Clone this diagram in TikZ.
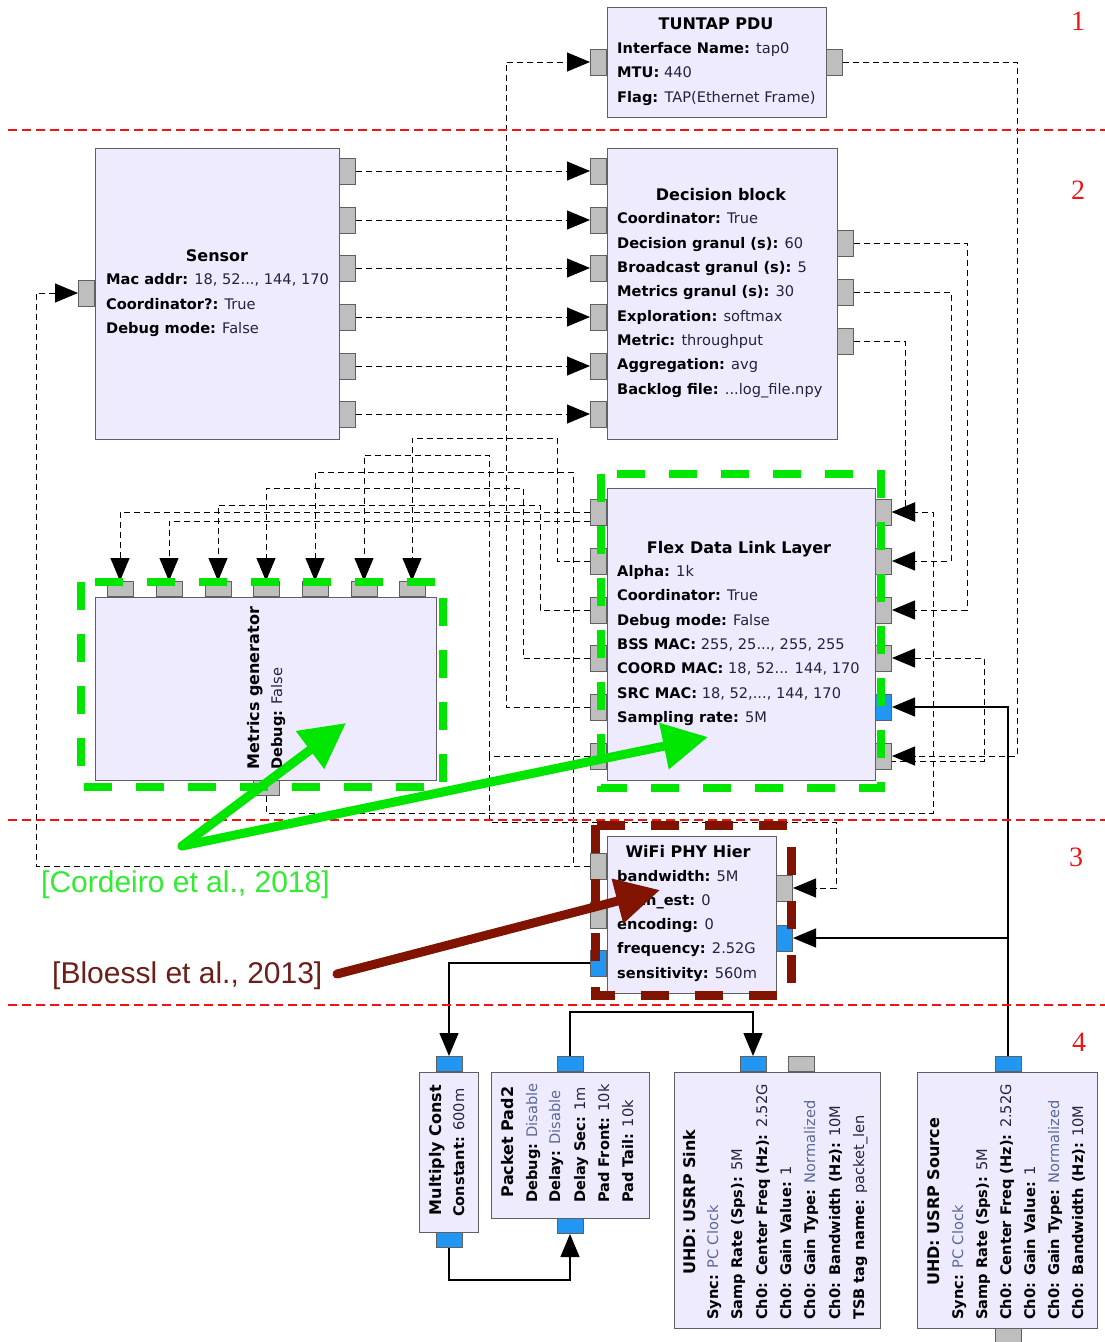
\documentclass[tikz,border=0pt]{standalone}
\usepackage{fontspec}
\setmainfont{DejaVu Sans}
\newfontfamily\citefont{Liberation Sans}
\newfontfamily\numfont{Liberation Serif}
\usetikzlibrary{arrows.meta,calc}
\pgfdeclarelayer{background}
\pgfsetlayers{background,main}
\definecolor{blkfill}{RGB}{238,235,255}
\definecolor{blkdraw}{RGB}{96,96,96}
\definecolor{portgray}{RGB}{190,190,190}
\definecolor{portblue}{RGB}{33,150,243}
\definecolor{annogreen}{RGB}{0,230,0}
\definecolor{citegreen}{RGB}{50,235,50}
\definecolor{annobrown}{RGB}{128,20,0}
\definecolor{citebrown}{RGB}{110,30,25}
\definecolor{valcol}{RGB}{35,35,60}
\definecolor{enumcol}{RGB}{90,105,150}
\definecolor{sepred}{RGB}{240,20,20}
\newcommand\kv[2]{\textbf{#1:} {\color{valcol}#2}}
\newcommand\ke[2]{\textbf{#1:} {\color{enumcol}#2}}
\tikzset{
  block/.style={draw=blkdraw, fill=blkfill, line width=1.3pt, inner sep=0pt, anchor=north west},
  lport/.style={draw=blkdraw, fill=portgray, line width=1pt, minimum width=16pt, minimum height=26pt, inner sep=0pt},
  tport/.style={draw=blkdraw, fill=portgray, line width=1pt, minimum width=26pt, minimum height=15pt, inner sep=0pt},
  bport/.style={fill=portblue},
  ttl/.style={font=\fontsize{16}{19}\selectfont\bfseries, inner sep=0pt, anchor=base},
  prm/.style={font=\fontsize{14.6}{17}\selectfont, inner sep=0pt, anchor=base west},
  rttl/.style={ttl, rotate=90},
  rprm/.style={prm, rotate=90},
  dcon/.style={draw=black, line width=1pt, dash pattern=on 6pt off 4pt},
  scon/.style={draw=black, line width=1.3pt},
  arr/.style={-{Triangle[length=23pt,width=19pt]}},
  gbox/.style={draw=annogreen, line width=7.5pt, dash pattern=on 28pt off 24pt},
  bbox/.style={draw=annobrown, line width=9pt, dash pattern=on 28pt off 26pt},
  garrow/.style={draw=annogreen, line width=9pt, line cap=round, -{Triangle[length=45pt,width=45pt]}},
  barrow/.style={draw=annobrown, line width=9pt, line cap=round, -{Triangle[length=44pt,width=44pt]}},
  sep/.style={draw=sepred, line width=2.5pt, dash pattern=on 9pt off 5pt},
  num/.style={font=\numfont\fontsize{28}{30}\selectfont, text=sepred, inner sep=0pt, anchor=base},
  cite/.style={font=\citefont\fontsize{30}{34}\selectfont, inner sep=0pt, anchor=base west}
}
\newcommand\pline[4]{\node[prm] (#1) at (#2,#3) {#4};}
\begin{document}
\begin{tikzpicture}[x=1pt,y=-1pt]
\useasboundingbox (0,0) rectangle (1105,1342);
\begin{pgfonlayer}{background}
\fill[white] (0,0) rectangle (1105,1342);
\end{pgfonlayer}

% ---------------- blocks ----------------
\node[block, minimum width=219pt, minimum height=110pt] (tun) at (607,7) {};
\node[block, minimum width=244pt, minimum height=291pt] (sen) at (95,148) {};
\node[block, minimum width=230pt, minimum height=291pt] (dec) at (607,148) {};
\node[block, minimum width=341pt, minimum height=183pt] (mg) at (95,597) {};
\node[block, minimum width=268pt, minimum height=292pt] (fl) at (607,488) {};
\node[block, minimum width=169pt, minimum height=157pt] (wf) at (607,836) {};
\node[block, minimum width=59pt, minimum height=160pt] (mc) at (419,1072) {};
\node[block, minimum width=158pt, minimum height=146pt] (pp) at (491,1072) {};
\node[block, minimum width=206pt, minimum height=256pt] (sk) at (674,1072) {};
\node[block, minimum width=180pt, minimum height=256pt] (sr) at (917,1072) {};

% ---------------- ports ----------------
\node[lport, anchor=east] (tun-i) at (607,62) {};
\node[lport, anchor=west] (tun-o) at (826,62) {};
\node[lport, anchor=east] (sen-i) at (95,293) {};
\foreach \y [count=\i] in {171,220,268,317,366,414} {
  \node[lport, anchor=west] (sen-o\i) at (339,\y) {};
  \node[lport, anchor=east] (dec-i\i) at (607,\y) {};
}
\foreach \y [count=\i] in {243,292,341} {
  \node[lport, anchor=west] (dec-o\i) at (837,\y) {};
}
\foreach \y [count=\i] in {512,561,610,658,707,756} {
  \node[lport, anchor=east] (fl-l\i) at (607,\y) {};
}
\foreach \y [count=\i] in {512,561,610,658} {
  \node[lport, anchor=west] (fl-r\i) at (875,\y) {};
}
\node[lport, bport, anchor=west] (fl-r5) at (875,707) {};
\node[lport, anchor=west] (fl-r6) at (875,756) {};
\foreach \x [count=\i] in {120,169,218,266,315,364,412} {
  \node[tport, anchor=south] (mg-i\i) at (\x,597) {};
}
\node[tport, anchor=north] (mg-o) at (266,780) {};
\node[lport, anchor=east] (wf-l1) at (607,866) {};
\node[lport, anchor=east] (wf-l2) at (607,915) {};
\node[lport, bport, anchor=east] (wf-l3) at (607,963) {};
\node[lport, anchor=west] (wf-r1) at (776,888) {};
\node[lport, bport, anchor=west] (wf-r2) at (776,938) {};
\node[tport, bport, anchor=south] (mc-i) at (449,1072) {};
\node[tport, bport, anchor=north] (mc-o) at (449,1232) {};
\node[tport, bport, anchor=south] (pp-o) at (570,1072) {};
\node[tport, bport, anchor=north] (pp-i) at (570,1218) {};
\node[tport, bport, anchor=south] (sk-i) at (753,1072) {};
\node[tport, anchor=south] (sk-c) at (801,1072) {};
\node[tport, bport, anchor=south] (sr-o) at (1008,1072) {};
\node[tport, anchor=north] (sr-c) at (1008,1328) {};

% ---------------- connectors ----------------
\begin{pgfonlayer}{background}
\foreach \i in {1,...,6} { \draw[dcon,arr] (sen-o\i.east) -- (dec-i\i.west); }
\draw[dcon,arr] (dec-o1.east) -| (967,610) -- (fl-r3.east);
\draw[dcon,arr] (dec-o2.east) -| (951,561) -- (fl-r2.east);
\draw[dcon,arr] (dec-o3.east) -| (905,512) -- (fl-r1.east);
\draw[dcon,arr] (tun-o.east) -| (1017,756) -- (fl-r6.east);
\draw[dcon,arr] (fl-l5.west) -| (506,62) -- (tun-i.west);
\draw[dcon,arr] (fl-l1.west) -| (mg-i1.north);
\draw[dcon,arr] ([yshift=-9pt]fl-l1.west) -| (mg-i2.north);
\draw[dcon,arr] (fl-l3.west) -| (540,505) -| (mg-i3.north);
\draw[dcon,arr] (fl-l4.west) -| (523,488) -| (mg-i4.north);
\draw[dcon,arr] (wf-l1.west) -| (573,472) -| (mg-i5.north);
\draw[dcon,arr] (fl-l6.west) -| (489,455) -| (mg-i6.north);
\draw[dcon,arr] (fl-l2.west) -| (557,438) -| (mg-i7.north);
\draw[dcon,arr] (wf-l1.west) -| (36,293) -- (sen-i.west);
\draw[dcon,arr] (fl-l6.west) -| (489,822) -| (836,888) -- (wf-r1.east);
\draw[dcon,arr] (mg-o.south) |- (933,813) |- (fl-r1.east);
\draw[dcon,arr] ([yshift=-5pt]fl-l6.west) -| (984,658) -- (fl-r4.east);
\draw[scon,arr] (sr-o.north) |- (fl-r5.east);
\draw[scon,arr] (sr-o.north) |- (wf-r2.east);
\draw[scon,arr] (wf-l3.west) -| (mc-i.north);
\draw[scon,arr] (mc-o.south) -- ++(0,32) -| (pp-i.south);
\draw[scon,arr] (pp-o.north) -- ++(0,-44) -| (sk-i.north);
\end{pgfonlayer}

% ---------------- texts ----------------
\node[ttl] (tun-t) at (716,29) {TUNTAP PDU};
\pline{tun-p1}{617}{53}{\kv{Interface Name}{tap0}}
\pline{tun-p2}{617}{77}{\kv{MTU}{440}}
\pline{tun-p3}{617}{102}{\kv{Flag}{TAP(Ethernet Frame)}}

\node[ttl] (sen-t) at (217,261) {Sensor};
\pline{sen-p1}{106}{284}{\kv{Mac addr}{18, 52..., 144, 170}}
\pline{sen-p2}{106}{309}{\kv{Coordinator?}{True}}
\pline{sen-p3}{106}{333}{\kv{Debug mode}{False}}

\node[ttl] (dec-t) at (721,200) {Decision block};
\pline{dec-p1}{617}{223}{\kv{Coordinator}{True}}
\pline{dec-p2}{617}{248}{\kv{Decision granul (s)}{60}}
\pline{dec-p3}{617}{272}{\kv{Broadcast granul (s)}{5}}
\pline{dec-p4}{617}{296}{\kv{Metrics granul (s)}{30}}
\pline{dec-p5}{617}{321}{\kv{Exploration}{softmax}}
\pline{dec-p6}{617}{345}{\kv{Metric}{throughput}}
\pline{dec-p7}{617}{369}{\kv{Aggregation}{avg}}
\pline{dec-p8}{617}{394}{\kv{Backlog file}{...log\_file.npy}}

\node[ttl] (fl-t) at (739,553) {Flex Data Link Layer};
\pline{fl-p1}{617}{576}{\kv{Alpha}{1k}}
\pline{fl-p2}{617}{600}{\kv{Coordinator}{True}}
\pline{fl-p3}{617}{625}{\kv{Debug mode}{False}}
\pline{fl-p4}{617}{649}{\kv{BSS MAC}{255, 25..., 255, 255}}
\pline{fl-p5}{617}{673}{\kv{COORD MAC}{18, 52... 144, 170}}
\pline{fl-p6}{617}{698}{\kv{SRC MAC}{18, 52,..., 144, 170}}
\pline{fl-p7}{617}{722}{\kv{Sampling rate}{5M}}

\node[ttl] (wf-t) at (688,857) {WiFi PHY Hier};
\pline{wf-p1}{617}{881}{\kv{bandwidth}{5M}}
\pline{wf-p2}{617}{905}{\kv{chan\_est}{0}}
\pline{wf-p3}{617}{929}{\kv{encoding}{0}}
\pline{wf-p4}{617}{953}{\kv{frequency}{2.52G}}
\pline{wf-p5}{617}{978}{\kv{sensitivity}{560m}}

\node[rttl] (mg-t) at (259,688) {Metrics generator};
\node[rprm] (mg-p1) at (282,770) {\kv{Debug}{False}};

\node[rttl] (mc-t) at (441,1150) {Multiply Const};
\node[rprm] (mc-p1) at (464,1217) {\kv{Constant}{600m}};

\node[rttl] (pp-t) at (513,1142) {Packet Pad2};
\node[rprm] (pp-p1) at (537,1203) {\ke{Debug}{Disable}};
\node[rprm] (pp-p2) at (560,1203) {\ke{Delay}{Disable}};
\node[rprm] (pp-p3) at (585,1203) {\kv{Delay Sec}{1m}};
\node[rprm] (pp-p4) at (609,1203) {\kv{Pad Front}{10k}};
\node[rprm] (pp-p5) at (633,1203) {\kv{Pad Tail}{10k}};

\node[rttl] (sk-t) at (695,1202) {UHD: USRP Sink};
\node[rprm] (sk-p1) at (718,1320) {\ke{Sync}{PC Clock}};
\node[rprm] (sk-p2) at (742,1320) {\kv{Samp Rate (Sps)}{5M}};
\node[rprm] (sk-p3) at (767,1320) {\kv{Ch0: Center Freq (Hz)}{2.52G}};
\node[rprm] (sk-p4) at (791,1320) {\kv{Ch0: Gain Value}{1}};
\node[rprm] (sk-p5) at (815,1320) {\ke{Ch0: Gain Type}{Normalized}};
\node[rprm] (sk-p6) at (840,1320) {\kv{Ch0: Bandwidth (Hz)}{10M}};
\node[rprm] (sk-p7) at (864,1320) {\kv{TSB tag name}{packet\_len}};

\node[rttl] (sr-t) at (939,1202) {UHD: USRP Source};
\node[rprm] (sr-p1) at (963,1320) {\ke{Sync}{PC Clock}};
\node[rprm] (sr-p2) at (987,1320) {\kv{Samp Rate (Sps)}{5M}};
\node[rprm] (sr-p3) at (1011,1320) {\kv{Ch0: Center Freq (Hz)}{2.52G}};
\node[rprm] (sr-p4) at (1035,1320) {\kv{Ch0: Gain Value}{1}};
\node[rprm] (sr-p5) at (1059,1320) {\ke{Ch0: Gain Type}{Normalized}};
\node[rprm] (sr-p6) at (1083,1320) {\kv{Ch0: Bandwidth (Hz)}{10M}};

% ---------------- separators and numbers ----------------
\draw[sep] (8,130) -- (1105,130);
\draw[sep] (8,820) -- (1105,820);
\draw[sep] (8,1005) -- (1105,1005);
\node[num] (n1) at (1078,30) {1};
\node[num] (n2) at (1078,199) {2};
\node[num] (n3) at (1076,866) {3};
\node[num] (n4) at (1079,1051) {4};

% ---------------- annotations ----------------
\draw[gbox] (81,582) rectangle (443,787);
\draw[gbox] (601,474) rectangle (881,788);
\draw[bbox] (595,825) rectangle (791,995);
\coordinate (gv) at (182,846);
\coordinate (gt1) at (346,723);
\coordinate (gt2) at (708,737);
\coordinate (bs) at (337,974);
\coordinate (bt) at (660,890);
\draw[garrow] (gv) -- (gt1);
\draw[garrow] (gv) -- (gt2);
\draw[barrow] (bs) -- (bt);
\node[cite, text=citegreen] (c1) at (41,892) {[Cordeiro et al., 2018]};
\node[cite, text=citebrown] (c2) at (52,983) {[Bloessl et al., 2013]};
\end{tikzpicture}
\end{document}
